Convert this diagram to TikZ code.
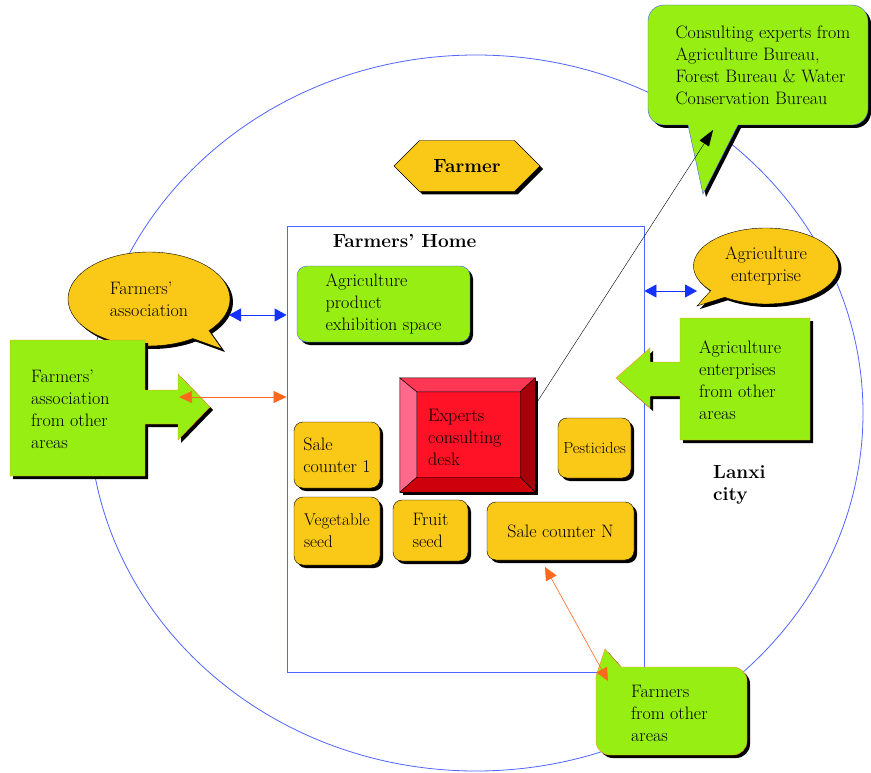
\documentclass[tikz,border=0pt]{standalone}
\usetikzlibrary{calc}
\usetikzlibrary{positioning}
\usetikzlibrary{shapes.callouts,shapes.symbols}
\usetikzlibrary{shadows}
\usetikzlibrary{arrows.meta}

\definecolor{leaf}{RGB}{150,238,18}
\definecolor{corn}{RGB}{250,200,22}
\definecolor{rim}{RGB}{255,135,40}
\definecolor{arrorange}{RGB}{255,105,30}
\definecolor{arrblue}{RGB}{20,50,255}
\definecolor{ring}{RGB}{80,100,255}
\definecolor{deskface}{RGB}{255,18,38}

\tikzset{x=1pt, y=-1pt,
  every node/.style={align=left, inner sep=0pt,
    font=\fontsize{18}{22}\selectfont},
  dropped/.style={drop shadow={opacity=1, fill=black,
    shadow xshift=3pt, shadow yshift=-3pt}},
  stall/.style={draw=black, fill=corn, rounded corners=9pt, dropped},
  greenbox/.style={draw=rim, fill=leaf, dropped},
  bluearr/.style={draw=arrblue, thick, {Triangle[length=12pt,width=13pt]}-{Triangle[length=12pt,width=13pt]}},
  orangearr/.style={draw=arrorange, semithick, {Triangle[length=13pt,width=12pt]}-{Triangle[length=13pt,width=12pt]}},
  bigtitle/.style={font=\fontsize{19}{22}\selectfont\bfseries}}

\begin{document}
\begin{tikzpicture}
  \useasboundingbox (0,0) rectangle (871,773);

  % the city
  \draw[ring, line width=0.8pt] (476,413) ellipse [x radius=387, y radius=358];
  \node[bigtitle, anchor=west] (city) at (713,485) {Lanxi\\city};

  % Farmers' Home and what it holds
  \node[draw=ring, thick, minimum width=357, minimum height=446] (home) at (465.5,449) {};
  \node[bigtitle, anchor=north west] (hometitle) at ($(home.north west)+(46,9)$) {Farmers' Home};

  \node[draw=arrblue!80, fill=leaf, rounded corners=10pt, dropped,
        minimum width=173, minimum height=76] (expo) at (383.5,304)
        {Agriculture\\product\\exhibition space};

  \node[fill=deskface, draw=black, dropped, minimum width=135, minimum height=114] (desk) at (467.5,435) {};
  \coordinate (ia) at ($(desk.north west)+(17,14)$);
  \coordinate (ib) at ($(desk.north east)+(-15,14)$);
  \coordinate (ic) at ($(desk.south east)+(-15,-15)$);
  \coordinate (id) at ($(desk.south west)+(17,-15)$);
  \filldraw[fill={rgb,255:red,255;green,105;blue,140}, draw=black, thin] (desk.north west) -- (ia) -- (id) -- (desk.south west) -- cycle;
  \filldraw[fill={rgb,255:red,255;green,55;blue,85}, draw=black, thin] (desk.north west) -- (desk.north east) -- (ib) -- (ia) -- cycle;
  \filldraw[fill={rgb,255:red,165;green,0;blue,10}, draw=black, thin] (desk.north east) -- (desk.south east) -- (ic) -- (ib) -- cycle;
  \filldraw[fill={rgb,255:red,205;green,0;blue,12}, draw=black, thin] (desk.south west) -- (desk.south east) -- (ic) -- (id) -- cycle;
  \node[anchor=west] (desktext) at (428,437) {Experts\\consulting\\desk};

  \node[stall, minimum width=86, minimum height=66] (sale1) at (337,455) {Sale\\counter 1};
  \node[stall, minimum width=73, minimum height=60, font=\fontsize{16}{20}\selectfont] (pest) at (594.5,448) {Pesticides};
  \node[stall, minimum width=86, minimum height=68, font=\fontsize{17}{22}\selectfont] (veg) at (337,531) {Vegetable\\seed};
  \node[stall, minimum width=75, minimum height=61] (fruit) at (430.5,530.5) {Fruit\\seed};
  \node[stall, minimum width=147, minimum height=58] (saleN) at (560.5,531) {Sale counter N};

  % the farmer
  \node[signal, signal to=west and east, draw=black, fill=corn, dropped,
        minimum width=146, minimum height=51, bigtitle] (farmer) at (467,166) {Farmer};

  % outside partners
  \node[ellipse callout, callout absolute pointer={(222,349)}, draw=black, fill=corn, dropped,
        minimum width=162, minimum height=94] (assoc) at (149,299) {Farmers'\\association};
  \node[ellipse callout, callout absolute pointer={(697,306)}, draw=black, fill=corn, dropped,
        minimum width=145, minimum height=76, align=center] (firm) at (766,266) {Agriculture\\enterprise};

  \filldraw[draw=arrblue!80, fill=leaf, dropped] (703,194) -- (688,125) [rounded corners=16pt]
    -- (648,125) -- (648,5) -- (868,5) -- (868,125) [sharp corners] -- (738,125) -- cycle;
  \node (experts) at (763,65) {Consulting experts from\\Agriculture Bureau,\\Forest Bureau \& Water\\Conservation Bureau};

  \filldraw[draw=rim, fill=leaf, dropped] (605,649) -- (621,667) [rounded corners=14pt]
    -- (747,667) -- (747,755) -- (596,755) [sharp corners] -- (596,676) -- cycle;
  \node[anchor=west] (visitors) at (631,713) {Farmers\\from other\\areas};

  % boxes with arrows
  \filldraw[greenbox] (10,340) -- (145,340) -- (145,390) -- (178,390) -- (178,374) -- (210,407)
    -- (178,440) -- (178,424) -- (145,424) -- (145,476) -- (10,476) -- cycle;
  \node[anchor=west] (otherassoc) at (31,409) {Farmers'\\association\\from other\\areas};

  \filldraw[greenbox] (810,318) -- (680,318) -- (680,362) -- (650,362) -- (650,348) -- (616,378)
    -- (650,408) -- (650,396) -- (680,396) -- (680,440) -- (810,440) -- cycle;
  \node[anchor=west] (otherfirms) at (699,380) {Agriculture\\enterprises\\from other\\areas};

  % connectors
  \coordinate (b1) at (229,315);
  \draw[bluearr] (b1) -- (b1 -| home.west);
  \coordinate (b2) at (697,291);
  \draw[bluearr] (b2 -| home.east) -- (b2);
  \coordinate (o1) at (179,397);
  \draw[orangearr] (o1) -- (o1 -| home.west);
  \coordinate (o2) at (545,567);
  \coordinate (o3) at (608,681);
  \draw[orangearr] (o2) -- (o3);
  \coordinate (e1) at (713,130);
  \draw[-{Triangle[length=16pt,width=11pt]}] ([yshift=30pt]desk.east) -- (e1);
\end{tikzpicture}
\end{document}
